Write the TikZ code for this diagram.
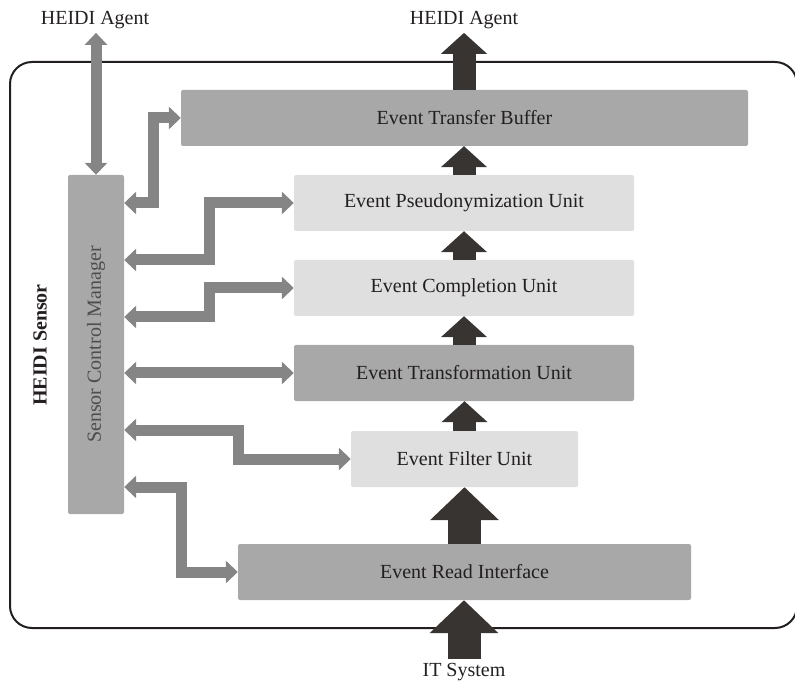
\documentclass[tikz,border=0pt]{standalone}
\usepackage{fontspec}
\setmainfont{Liberation Serif}
\usetikzlibrary{arrows.meta,positioning}
\definecolor{boxdark}{HTML}{A8A8A8}
\definecolor{boxlight}{HTML}{DFDFDF}
\definecolor{flowgray}{HTML}{383432}
\definecolor{ctrlgray}{HTML}{858585}
\definecolor{ink}{HTML}{231F20}
\begin{document}
\begin{tikzpicture}[x=1pt, y=-1pt,
		font=\fontsize{20}{23}\selectfont, text=ink,
		unit/.style={rectangle, rounded corners=2pt, minimum height=56pt, inner sep=0pt},
		dark/.style={unit, fill=boxdark},
		light/.style={unit, fill=boxlight},
		flow/.style={draw=flowgray, line width=23pt, -{Triangle[width=45pt,length=21pt]}},
		bigflow/.style={draw=flowgray, line width=33pt, -{Triangle[width=67pt,length=33pt]}},
		ctrl/.style={draw=ctrlgray, line width=11pt, {Triangle[width=22pt,length=12pt]}-{Triangle[width=22pt,length=12pt]}}
		]
	\useasboundingbox (0,0) rectangle (795,684);
	\node [draw=ink, line width=2pt, rounded corners=22pt, minimum width=787pt, minimum height=566pt] (sensorframe) at (403.5,345) {};
	\node [rotate=90, font=\fontsize{20}{23}\selectfont\bfseries] (sensor) at (40,345) {HEIDI Sensor};

	% units of the sensor
	\node [dark, minimum width=567pt] (etb) at (464.5,118) {Event Transfer Buffer};
	\node [light, minimum width=340pt] (epu) at (464,203) {Event Pseudonymization Unit};
	\node [light, minimum width=340pt] (ecu) at (464,288) {Event Completion Unit};
	\node [dark, minimum width=340pt] (etu) at (464,373) {Event Transformation Unit};
	\node [light, minimum width=227pt] (efu) at (464.5,459) {Event Filter Unit};
	\node [dark, minimum width=453pt] (eri) at (464.5,572) {Event Read Interface};
	% rotated: east is the top side, south the right side
	\node [dark, rotate=90, minimum width=339pt, text=ink!80] (scm) at (96,344.5) {Sensor Control Manager};

	\node [anchor=base] (agentL) at (95,25) {HEIDI Agent};
	\node [anchor=base] (agentR) at (464,25) {HEIDI Agent};
	\node [anchor=base] (itsys) at (464,676) {IT System};

	% event flow
	\draw [bigflow] (itsys.north) -- (itsys.north |- eri.south);
	\draw [bigflow] (eri.north -| efu.south) -- (efu.south);
	\draw [flow] (efu.north) -- (efu.north |- etu.south);
	\draw [flow] (etu.north) -- (etu.north |- ecu.south);
	\draw [flow] (ecu.north) -- (ecu.north |- epu.south);
	\draw [flow] (epu.north) -- (epu.north |- etb.south);
	\draw [flow] (etb.north -| agentR.south) -- (agentR.south);

	% control
	\draw [ctrl] (scm.east) -- (scm.east |- agentL.south);
	\draw [ctrl] (scm.south |- 0,203) -- (153,203) |- (etb.west);
	\draw [ctrl] (scm.south |- 0,260) -- (209,260) |- (epu.west);
	\draw [ctrl] (scm.south |- 0,317) -- (209,317) |- (ecu.west);
	\draw [ctrl] (scm.south |- etu.west) -- (etu.west);
	\draw [ctrl] (scm.south |- 0,430) -- (238,430) |- (efu.west);
	\draw [ctrl] (scm.south |- 0,487) -- (181,487) |- (eri.west);
\end{tikzpicture}
\end{document}
